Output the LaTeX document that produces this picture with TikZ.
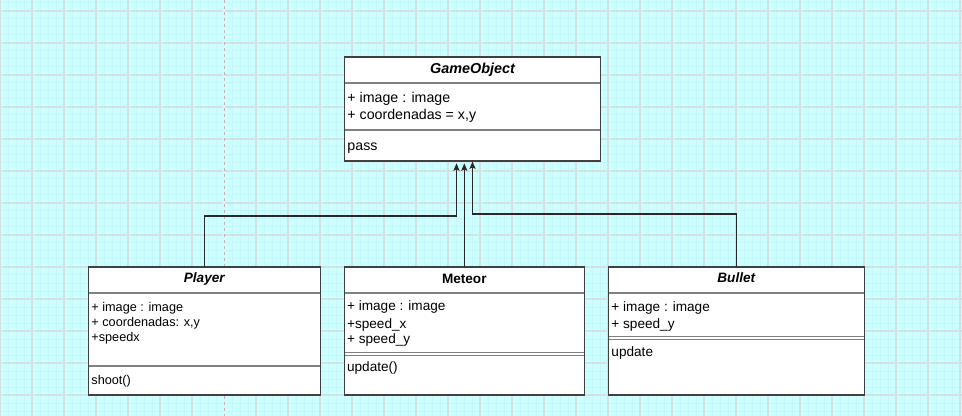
\documentclass[tikz,border=0pt]{standalone}
\usepackage{fontspec}
\setmainfont{Liberation Sans}
\usetikzlibrary{arrows.meta,calc}
\definecolor{bgc}{RGB}{204,255,255}
\definecolor{minorc}{RGB}{198,247,249}
\definecolor{majorc}{RGB}{210,226,226}
\definecolor{pagec}{RGB}{205,175,178}
\definecolor{boxc}{RGB}{64,64,64}
\definecolor{sepc}{RGB}{128,128,128}
\definecolor{linec}{RGB}{40,40,40}
\begin{document}
\begin{tikzpicture}[x=0.75pt,y=-0.75pt,
  classbox/.style={rectangle,fill=white,draw=boxc,line width=1pt,inner sep=0pt,outer sep=0pt},
  sepline/.style={draw=sepc,line width=1.6pt,shorten <=0.5pt,shorten >=0.5pt},
  thinsep/.style={draw=sepc,line width=0.75pt,shorten <=0.5pt,shorten >=0.5pt},
  inh/.style={draw=linec,line width=0.8pt,-{Stealth[length=5.5pt,width=4.6pt,inset=1pt]}},
  ttlbig/.style={font=\fontsize{10.8pt}{13pt}\selectfont\bfseries\itshape,anchor=base,inner sep=0pt},
  ttl/.style={font=\fontsize{10.2pt}{12pt}\selectfont\bfseries\itshape,anchor=base,inner sep=0pt},
  ttlup/.style={font=\fontsize{10.2pt}{12pt}\selectfont\bfseries,anchor=base,inner sep=0pt},
  txtbig/.style={font=\fontsize{10.65pt}{13pt}\selectfont,anchor=base west,inner sep=0pt},
  txt/.style={font=\fontsize{10.2pt}{12pt}\selectfont,anchor=base west,inner sep=0pt},
  txtsmall/.style={font=\fontsize{9.5pt}{11pt}\selectfont,anchor=base west,inner sep=0pt}]
\useasboundingbox (0,0) rectangle (962,416);
% background grid
\fill[bgc] (0,0) rectangle (962,416);
\foreach \i in {0,...,120} {\draw[minorc,line width=0.75pt] (8*\i,0) -- (8*\i,416);}
\foreach \i in {0,...,52} {\draw[minorc,line width=0.75pt] (0,3+8*\i) -- (962,3+8*\i);}
\foreach \i in {0,...,30} {\draw[majorc,line width=0.9pt] (32*\i,0) -- (32*\i,416);}
\foreach \i in {0,...,13} {\draw[majorc,line width=0.9pt] (0,11+32*\i) -- (962,11+32*\i);}
\fill[bgc] (223,0) rectangle (225,416);
\draw[pagec,line width=0.75pt,dash pattern=on 2.25pt off 2.25pt] (224,0) -- (224,416);

% boxes
\node[classbox,minimum width=192pt,minimum height=78pt] (go) at (472.5,109) {};
\node[classbox,minimum width=174pt,minimum height=96pt] (player) at (204.3,331) {};
\node[classbox,minimum width=180pt,minimum height=96pt] (meteor) at (464.3,331) {};
\node[classbox,minimum width=192pt,minimum height=96pt] (bullet) at (736.3,331) {};

% separators
\draw[sepline] ($(go.north west)+(0,26)$) -- ($(go.north east)+(0,26)$);
\draw[sepline] ($(go.north west)+(0,73)$) -- ($(go.north east)+(0,73)$);
\draw[sepline] ($(player.north west)+(0,26)$) -- ($(player.north east)+(0,26)$);
\draw[sepline] ($(player.north west)+(0,99)$) -- ($(player.north east)+(0,99)$);
\draw[sepline] ($(meteor.north west)+(0,26)$) -- ($(meteor.north east)+(0,26)$);
\draw[thinsep] ($(meteor.north west)+(0,85.5)$) -- ($(meteor.north east)+(0,85.5)$);
\draw[thinsep] ($(meteor.north west)+(0,88)$) -- ($(meteor.north east)+(0,88)$);
\draw[sepline] ($(bullet.north west)+(0,26)$) -- ($(bullet.north east)+(0,26)$);
\draw[thinsep] ($(bullet.north west)+(0,69.5)$) -- ($(bullet.north east)+(0,69.5)$);
\draw[thinsep] ($(bullet.north west)+(0,72)$) -- ($(bullet.north east)+(0,72)$);

% texts
\node[ttlbig] (goT) at (472.5,74) {GameObject};
\node[txtbig] (goA1) at (347.2,102.5) {+ image : image};
\node[txtbig] (goA2) at (347.2,120) {+ coordenadas = x,y};
\node[txtbig] (goM1) at (347.2,150.7) {pass};

\node[ttl] (plT) at (204.3,282.7) {Player};
\node[txtsmall] (plA1) at (91.2,311) {+ image : image};
\node[txtsmall] (plA2) at (91.2,326.7) {+ coordenadas: x,y};
\node[txtsmall] (plA3) at (91.2,341.7) {+speedx};
\node[txtsmall] (plM1) at (91.2,384.3) {shoot()};

\node[ttlup] (meT) at (464.3,283) {Meteor};
\node[txt] (meA1) at (346.8,310.7) {+ image : image};
\node[txt] (meA2) at (346.8,328) {+speed\_x};
\node[txt] (meA3) at (346.8,343.3) {+ speed\_y};
\node[txt] (meM1) at (346.8,371.7) {update()};

\node[ttl] (buT) at (736.3,282.7) {Bullet};
\node[txt] (buA1) at (611.2,311) {+ image : image};
\node[txt] (buA2) at (611.2,328.3) {+ speed\_y};
\node[txt] (buM1) at (611.2,356) {update};

% inheritance connectors
\coordinate (goP) at ($(go.south)+(-16,0)$);
\coordinate (goM) at ($(go.south)+(-8,0)$);
\draw[inh,shorten >=1.8pt] (player.north) -- ++(0,-51) -| (goP);
\draw[inh,shorten >=1.8pt] (meteor.north) -- (meteor.north |- go.south);
\draw[inh,shorten >=0.4pt] (bullet.north) -- ++(0,-53) -| (go.south);
\end{tikzpicture}
\end{document}
